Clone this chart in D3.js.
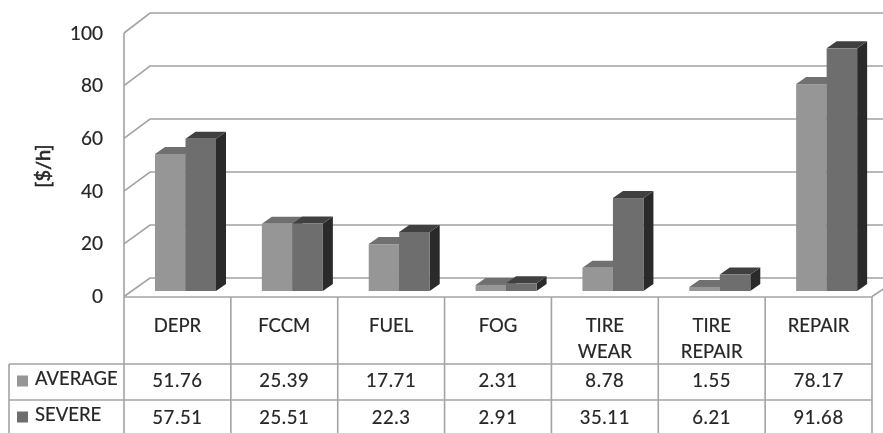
<!DOCTYPE html>
<html>
<head>
<meta charset="utf-8">
<script src="https://cdn.jsdelivr.net/npm/d3@7"></script>
<style>
  html, body { margin: 0; padding: 0; background: #fff; overflow: hidden; }
  svg { display: block; filter: blur(0.45px); }
  text { font-family: Lato, "Open Sans", sans-serif; fill: #262626; stroke: #262626; stroke-width: 0.2px; }
</style>
</head>
<body>
<div id="chart"></div>
<script>
const categories = [["DEPR"], ["FCCM"], ["FUEL"], ["FOG"], ["TIRE", "WEAR"], ["TIRE", "REPAIR"], ["REPAIR"]];
const average = [51.76, 25.39, 17.71, 2.31, 8.78, 1.55, 78.17];
const severe = [57.51, 25.51, 22.3, 2.91, 35.11, 6.21, 91.68];
const yTicks = [0, 20, 40, 60, 80, 100];

const width = 883, height = 433;
const gridColor = "#a3a3a3";
const depth = {x: 10, y: 7};

const svg = d3.select("#chart").append("svg")
    .attr("width", width)
    .attr("height", height);

// one band per table column
const x = d3.scaleBand()
    .domain(d3.range(categories.length))
    .range([124, 872]);

// three y scales because of the fake 3d: front edge, back wall, bar front
const yFront = d3.scaleLinear().domain([0, 100]).range([296.5, 33]);
const yBack = d3.scaleLinear().domain([0, 100]).range([278, 13]);
const yBar = d3.scaleLinear().domain([0, 100]).range([291, 26.3]);

const wall = svg.append("g")
    .attr("fill", "none")
    .attr("stroke", gridColor)
    .attr("stroke-width", 1.6);

// back wall lines + slanted bits on the side wall
yTicks.forEach(t => {
  wall.append("path")
    .attr("d", `M124,${yFront(t)}L150,${yBack(t)}L883,${yBack(t)}`);
});
wall.append("line")
    .attr("x1", 124).attr("x2", 124)
    .attr("y1", yFront(100)).attr("y2", height);
wall.append("line")
    .attr("x1", 872).attr("x2", 884)
    .attr("y1", yFront(0)).attr("y2", yFront(0) - 8);

const yAxis = d3.axisLeft(yFront)
    .tickValues(yTicks)
    .tickSize(0)
    .tickPadding(0);

svg.append("g")
    .attr("transform", "translate(103,0)")
    .call(yAxis)
    .call(g => g.select(".domain").remove())
    .call(g => g.selectAll("text")
        .style("font-family", "Lato, 'Open Sans', sans-serif")
        .style("font-size", "19px")
        .attr("fill", "#262626"));

svg.append("text")
    .attr("transform", "translate(43,166) rotate(-90)")
    .attr("text-anchor", "middle")
    .attr("dy", "0.35em")
    .style("font-size", "20px")
    .style("stroke-width", "0.6px")
    .text("[$/h]");

// 3d bar: side, top, then the front face
const barW = 30.5;
function drawBar(g, i, off, v, c) {
  const x0 = x(i) + 31 + off;
  const x1 = x0 + barW;
  const top = yBar(v), base = yBar(0);
  g.append("path")
    .attr("fill", c.side)
    .attr("d", `M${x1},${top}L${x1 + depth.x},${top - depth.y}L${x1 + depth.x},${base - depth.y}L${x1},${base}Z`);
  g.append("path")
    .attr("fill", c.top)
    .attr("d", `M${x0},${top}L${x0 + depth.x},${top - depth.y}L${x1 + depth.x},${top - depth.y}L${x1},${top}Z`);
  g.append("rect")
    .attr("x", x0)
    .attr("y", top)
    .attr("width", barW)
    .attr("height", base - top)
    .attr("fill", c.front);
}

const avgColors = {front: "#969696", top: "#707070", side: "#4a4a4a"};
const sevColors = {front: "#6e6e6e", top: "#404040", side: "#2a2a2a"};

const bars = svg.append("g");
categories.forEach((c, i) => {
  drawBar(bars, i, 0, average[i], avgColors);
  drawBar(bars, i, barW, severe[i], sevColors);
});

// data table under the plot
const rowY = [297, 364, 400, 433];
const table = svg.append("g")
    .attr("stroke", gridColor)
    .attr("stroke-width", 1.6);

table.append("line")
    .attr("x1", 124).attr("x2", 872)
    .attr("y1", rowY[0]).attr("y2", rowY[0]);
[rowY[1], rowY[2]].forEach(y => {
  table.append("line")
    .attr("x1", 9).attr("x2", 872)
    .attr("y1", y).attr("y2", y);
});
table.append("line")
    .attr("x1", 9).attr("x2", 9)
    .attr("y1", rowY[1]).attr("y2", height);
d3.range(1, categories.length + 1).forEach(i => {
  const xx = i === categories.length ? 872 : x(i);
  table.append("line")
    .attr("x1", xx).attr("x2", xx)
    .attr("y1", rowY[0]).attr("y2", height);
});

const labels = svg.append("g")
    .attr("text-anchor", "middle")
    .style("font-size", "18.5px");

categories.forEach((c, i) => {
  const cx = x(i) + x.bandwidth() / 2;
  c.forEach((line, j) => {
    labels.append("text")
      .attr("x", cx)
      .attr("y", 326 + j * 26)
      .attr("dy", "0.35em")
      .text(line);
  });
  labels.append("text").attr("x", cx).attr("y", 381).attr("dy", "0.35em").style("letter-spacing", "0.6px").text(average[i]);
  labels.append("text").attr("x", cx).attr("y", 418).attr("dy", "0.35em").style("letter-spacing", "0.6px").text(severe[i]);
});

// legend keys inside the table
[{name: "AVERAGE", color: avgColors.front, y: 381}, {name: "SEVERE", color: sevColors.front, y: 417}].forEach(d => {
  svg.append("rect")
    .attr("x", 17).attr("y", d.y - 5.5)
    .attr("width", 11).attr("height", 11)
    .attr("fill", d.color);
  svg.append("text")
    .attr("x", 35).attr("y", d.y - 2)
    .attr("dy", "0.35em")
    .style("font-size", "18.5px")
    .text(d.name);
});
</script>
</body>
</html>
